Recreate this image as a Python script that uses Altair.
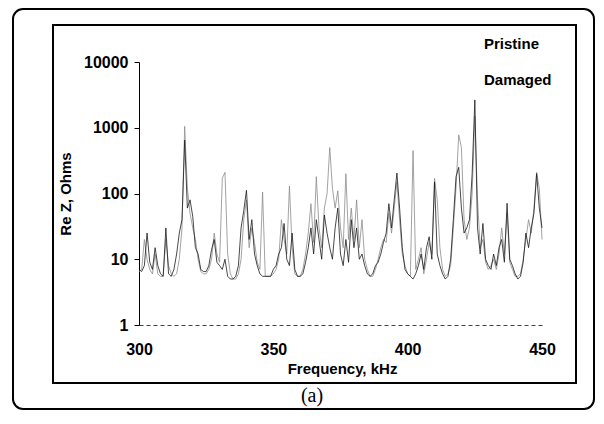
import altair as alt
import pandas as pd

# Frequency grid (kHz)
freq = list(range(300, 451))

# Re Z (Ohms), one value per kHz
pristine = [
    6.5, 7, 20, 10, 7, 6, 12, 6, 5.5, 5.5,
    20, 8, 6, 5.5, 6, 10, 30, 1050, 120, 50,
    30, 20, 10, 6.5, 6, 6, 7, 10, 25, 12,
    9, 170, 210, 12, 6, 5, 5, 6, 10, 40,
    80, 15, 30, 18, 9, 7, 105, 5.5, 5.5, 5.5,
    6, 7, 10, 40, 20, 12, 130, 15, 6, 5.5,
    5.5, 7, 12, 25, 70, 18, 180, 30, 15, 60,
    100, 500, 120, 60, 110, 30, 15, 200, 20, 60,
    20, 80, 15, 40, 10, 7, 5.5, 5.5, 7, 10,
    15, 20, 18, 50, 25, 60, 150, 40, 12, 8,
    6, 5.5, 450, 7, 10, 15, 6, 10, 18, 12,
    170, 80, 15, 7, 5.5, 6, 8, 30, 120, 780,
    500, 40, 20, 30, 100, 1500, 80, 15, 20, 9,
    7, 8, 10, 7, 12, 30, 12, 50, 9, 7,
    5.5, 5.5, 6, 10, 20, 40, 25, 60, 210, 120,
    20,
]
damaged = [
    7, 6.5, 8, 25, 9, 7, 15, 8, 6, 5.5,
    30, 6, 5.5, 7, 12, 25, 40, 650, 60, 80,
    45, 15, 12, 7, 6.5, 6.5, 8, 14, 20, 9,
    8, 7, 10, 5.5, 5, 5, 5.5, 8, 30, 55,
    112, 20, 40, 12, 8, 6, 5.5, 5.5, 5.5, 5.5,
    7, 8, 12, 15, 35, 10, 8, 25, 7, 5.5,
    5.5, 6, 9, 15, 30, 12, 40, 20, 10, 47,
    25, 15, 10, 30, 60, 12, 8, 20, 9, 40,
    15, 30, 10, 12, 8, 6, 5.5, 6, 8, 9,
    12, 18, 25, 70, 30, 80, 205, 60, 15, 7,
    6, 5.5, 5, 6, 8, 12, 7, 15, 22, 10,
    150, 12, 8, 6, 5, 5.5, 10, 40, 180, 250,
    60, 25, 30, 40, 200, 2650, 30, 12, 35, 10,
    8, 7, 12, 8, 15, 20, 9, 71, 10, 8,
    6, 5, 5.5, 9, 25, 15, 30, 50, 200, 60,
    30,
]
series_names = ["Pristine", "Damaged"]
series_colors = ["#8c8c8c", "#1a1a1a"]
x_ticks = [300, 350, 400, 450]
y_ticks = [1, 10, 100, 1000, 10000]

df = pd.DataFrame({
    "Frequency": freq + freq,
    "ReZ": pristine + damaged,
    "Series": ["Pristine"] * len(freq) + ["Damaged"] * len(freq),
})

FONT = "Liberation Sans"

lines = alt.Chart(df).mark_line(strokeWidth=0.8).encode(
    x=alt.X("Frequency:Q",
            scale=alt.Scale(domain=[300, 450], nice=False, zero=False),
            axis=alt.Axis(values=x_ticks, title="Frequency, kHz", grid=False,
                          tickSize=0, labelPadding=16, labelFlush=False,
                          domainDash=[4, 3],
                          domainColor="#444444", domainWidth=1,
                          titleX=203, titleY=43, titleBaseline="middle",
                          titleAlign="center")),
    y=alt.Y("ReZ:Q",
            scale=alt.Scale(type="log", domain=[1, 10000], nice=False),
            axis=alt.Axis(values=y_ticks, format="d", title="Re Z, Ohms",
                          grid=False, tickSize=5, labelPadding=6,
                          labelFlush=False,
                          domainColor="#000000", tickColor="#000000",
                          titleX=-74, titleY=131.5, titleAngle=270,
                          titleAlign="center", titleBaseline="middle")),
    color=alt.Color("Series:N",
                    scale=alt.Scale(domain=series_names, range=series_colors),
                    sort=series_names,
                    legend=alt.Legend(title=None, orient="none", legendX=330,
                                      legendY=-26, symbolOpacity=0,
                                      symbolSize=1, labelOffset=0,
                                      rowPadding=20, labelFontSize=15,
                                      labelFontWeight="bold", labelFont=FONT,
                                      labelColor="#000000")),
)

one = pd.DataFrame({"k": [0]})
outer = alt.Chart(one).mark_rect(fillOpacity=0, stroke="#000000",
                                 strokeWidth=2, cornerRadius=10).encode(
    x=alt.value(-126), x2=alt.value(455), y=alt.value(-53), y2=alt.value(347))
inner = alt.Chart(one).mark_rect(fillOpacity=0, stroke="#000000",
                                 strokeWidth=2).encode(
    x=alt.value(-86), x2=alt.value(437), y=alt.value(-37), y2=alt.value(321))
caption = alt.Chart(one).mark_text(text="(a)", font="Liberation Serif",
                                   fontSize=20, color="#000000").encode(
    x=alt.value(173), y=alt.value(334))

chart = alt.layer(outer, inner, lines, caption).properties(
    width=403, height=263,
    padding={"left": 131, "top": 54, "right": 54, "bottom": 87},
    autosize=alt.AutoSizeParams(type="none"),
    background="white",
).configure_view(stroke=None).configure_axis(
    labelFont=FONT, labelFontSize=16, labelFontWeight="bold",
    labelColor="#000000", titleFont=FONT, titleFontSize=15,
    titleFontWeight="bold", titleColor="#000000",
)

chart.save("out.html", embed_options={"renderer": "svg", "actions": False})
